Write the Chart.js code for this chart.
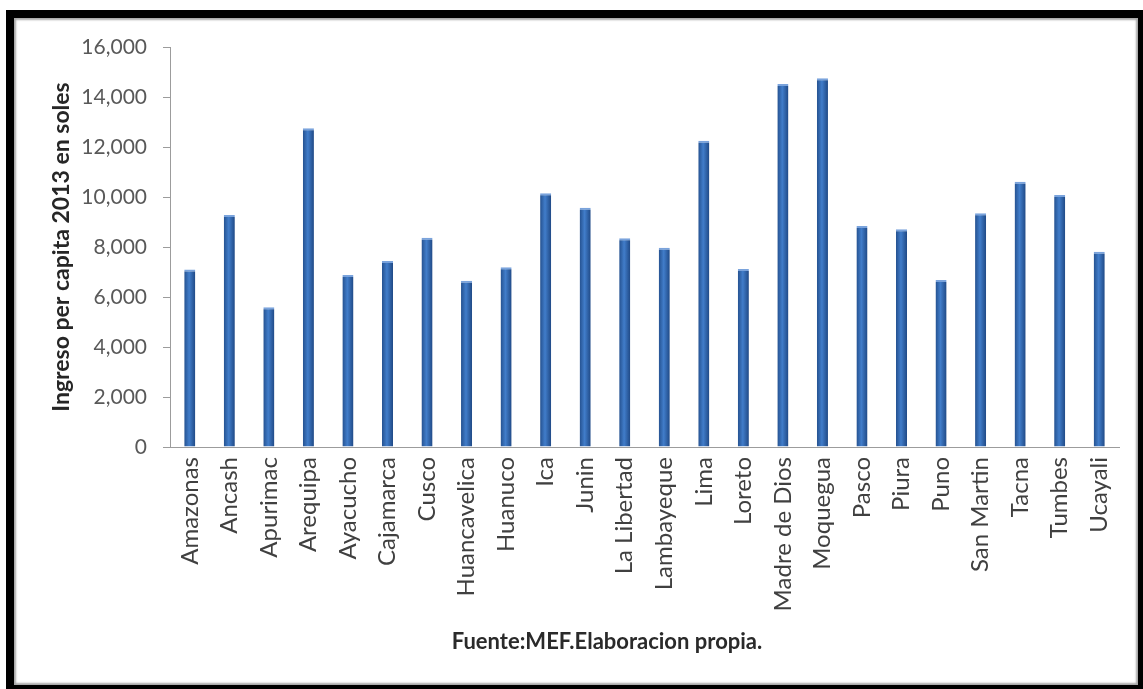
<!DOCTYPE html>
<html>
<head>
<meta charset="utf-8">
<script src="https://cdn.jsdelivr.net/npm/chart.js@4"></script>
<style>
  html, body { margin: 0; padding: 0; background: #fff; }
  body { width: 1143px; height: 689px; position: relative; overflow: hidden; }
  #frame {
    position: absolute; left: 6px; top: 10px; width: 1140px; height: 683px;
    box-sizing: border-box; border: 8px solid #000;
    box-shadow: inset 0 0 2px 2px #a8a8a8;
    background: #fff;
  }
  #chart { position: absolute; left: 0; top: 0; }
</style>
</head>
<body>
<div id="frame"></div>
<canvas id="chart" width="1143" height="689"></canvas>
<script>
// Ingreso per cápita por región, 2013 (soles)
const regiones = [
  'Amazonas', 'Ancash', 'Apurimac', 'Arequipa', 'Ayacucho', 'Cajamarca',
  'Cusco', 'Huancavelica', 'Huanuco', 'Ica', 'Junin', 'La Libertad',
  'Lambayeque', 'Lima', 'Loreto', 'Madre de Dios', 'Moquegua', 'Pasco',
  'Piura', 'Puno', 'San Martin', 'Tacna', 'Tumbes', 'Ucayali'
];
const ingreso2013 = [
  7100, 9280, 5590, 12750, 6880, 7440,
  8370, 6650, 7190, 10150, 9570, 8350,
  7970, 12250, 7120, 14520, 14750, 8840,
  8710, 6680, 9350, 10610, 10080, 7810
];
const yTicks = [0, 2000, 4000, 6000, 8000, 10000, 12000, 14000, 16000];
const yTitle = 'Ingreso per capita 2013 en soles';
const fuente = 'Fuente:MEF.Elaboracion propia.';

const axisGrey = '#9c9c9c';

// cylinder-like shading across each bar
function barFill(context) {
  const chart = context.chart;
  const xs = chart.scales.x;
  const fallback = '#3a6fb5';
  if (!chart.chartArea || !xs || context.dataIndex === undefined) return fallback;
  const cx = xs.getPixelForValue(context.dataIndex);
  if (!isFinite(cx)) return fallback;
  const half = 6;
  const g = chart.ctx.createLinearGradient(cx - half, 0, cx + half, 0);
  g.addColorStop(0, '#224d8a');
  g.addColorStop(0.45, '#417dca');
  g.addColorStop(1, '#1d4580');
  return g;
}

const footnotePlugin = {
  id: 'footnote',
  afterDraw(chart) {
    const ctx = chart.ctx;
    ctx.save();
    ctx.font = 'bold 22px Lato';
    ctx.fillStyle = '#2a2a2a';
    ctx.textAlign = 'center';
    ctx.textBaseline = 'middle';
    ctx.fillText(fuente, 607, 642);
    ctx.restore();
  }
};

new Chart(document.getElementById('chart'), {
  type: 'bar',
  data: {
    labels: regiones,
    datasets: [{
      data: ingreso2013,
      backgroundColor: barFill,
      borderColor: '#7aa3dc',
      borderWidth: { top: 2, left: 0, right: 0, bottom: 0 },
      borderSkipped: 'bottom',
      barPercentage: 0.28,
      categoryPercentage: 1
    }]
  },
  options: {
    responsive: false,
    animation: false,
    layout: { padding: { top: 47, right: 24, left: 0, bottom: 0 } },
    plugins: {
      legend: { display: false },
      tooltip: { enabled: false }
    },
    scales: {
      x: {
        grid: { display: true, drawOnChartArea: false, drawTicks: false },
        border: { display: true, color: axisGrey, width: 1 },
        ticks: {
          autoSkip: false,
          maxRotation: 90,
          minRotation: 90,
          padding: 10,
          color: '#404040',
          font: { family: 'Lato', size: 24 }
        },
        afterFit(scale) { scale.height = 242; }
      },
      y: {
        min: 0,
        max: 16000,
        afterBuildTicks(scale) { scale.ticks = yTicks.map(v => ({ value: v })); },
        grid: { display: true, drawOnChartArea: false, drawTicks: true, tickLength: 7, color: axisGrey },
        border: { display: true, color: axisGrey, width: 1 },
        ticks: {
          padding: 16,
          color: '#595959',
          font: { family: 'Lato', size: 21 },
          callback: v => v.toLocaleString('en-US')
        },
        title: {
          display: true,
          text: yTitle,
          color: '#262626',
          font: { family: 'Lato', size: 23, weight: 'bold' },
          padding: { top: 48, bottom: 0 }
        },
        afterFit(scale) { scale.width = 170; }
      }
    }
  },
  plugins: [footnotePlugin]
});
</script>
</body>
</html>
